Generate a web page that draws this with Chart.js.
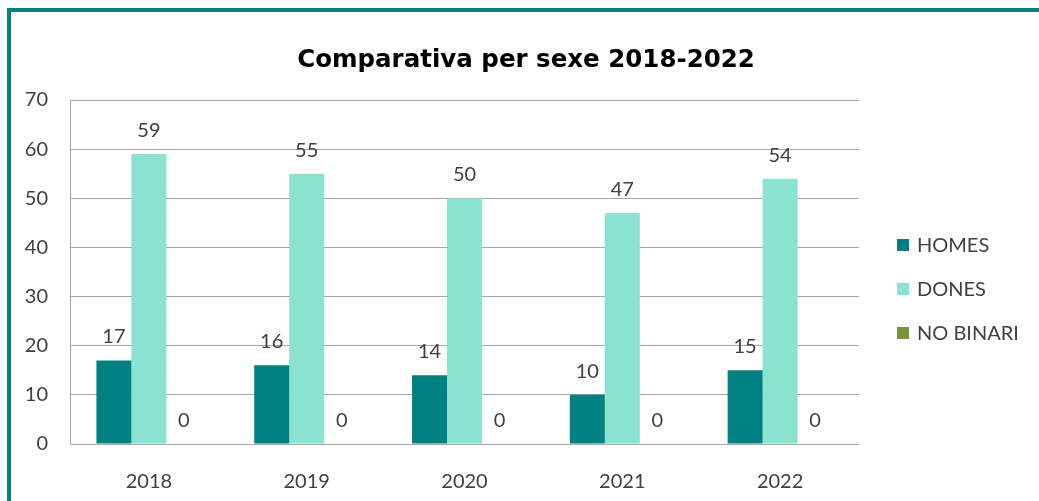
<!DOCTYPE html>
<html>
<head>
<meta charset="utf-8">
<title>Comparativa per sexe 2018-2022</title>
<script src="https://cdn.jsdelivr.net/npm/chart.js@4.4.1/dist/chart.umd.min.js"></script>
<style>
    html, body { margin: 0; padding: 0; background: #fff; overflow: hidden; }
    #wrap { position: relative; width: 1039px; height: 501px; }
    #frame {
        position: absolute; left: 7px; top: 8px; width: 1100px; height: 600px;
        border-top: 4px solid #0a807c; border-left: 4px solid #0a807c;
        pointer-events: none;
    }
</style>
</head>
<body>
<div id="wrap">
    <canvas id="sexChart" width="1039" height="501"></canvas>
    <div id="frame"></div>
</div>
<script>
const chartTitle = 'Comparativa per sexe 2018-2022';
const years = ['2018', '2019', '2020', '2021', '2022'];
const homes = [17, 16, 14, 10, 15];
const dones = [59, 55, 50, 47, 54];
const noBinari = [0, 0, 0, 0, 0];
const seriesNames = ['HOMES', 'DONES', 'NO BINARI'];
const seriesColors = ['#008080', '#8ae2d0', '#77933c'];
const yMax = 70;
const yStep = 10;

const textColor = '#404040';
const gridColor = '#a6a6a6';
const fontFamily = 'Lato, Carlito, "Open Sans", sans-serif';

// titol, llegenda i etiquetes de valor dibuixats a ma
const decorations = {
    id: 'decorations',
    afterDatasetsDraw(chart) {
        const { ctx, chartArea } = chart;
        ctx.save();

        // etiquetes de dades
        ctx.font = `20px ${fontFamily}`;
        ctx.fillStyle = textColor;
        ctx.textAlign = 'center';
        ctx.textBaseline = 'alphabetic';
        chart.data.datasets.forEach((ds, i) => {
            const meta = chart.getDatasetMeta(i);
            meta.data.forEach((bar, j) => {
                ctx.fillText(String(ds.data[j]), bar.x, bar.y - 17);
            });
        });

        // titol
        ctx.font = 'bold 24.5px "DejaVu Sans", sans-serif';
        ctx.fillStyle = '#000';
        ctx.fillText(chartTitle, 526, 67);

        // llegenda
        ctx.font = `20px ${fontFamily}`;
        ctx.textAlign = 'left';
        ctx.textBaseline = 'middle';
        chart.data.datasets.forEach((ds, i) => {
            const cy = chartArea.top + 145 + i * 44;
            ctx.fillStyle = ds.backgroundColor;
            ctx.fillRect(897, cy - 6, 12, 12);
            ctx.fillStyle = textColor;
            ctx.fillText(ds.label, 917, cy + 1);
        });

        ctx.restore();
    }
};

const ctx = document.getElementById('sexChart').getContext('2d');

new Chart(ctx, {
    type: 'bar',
    data: {
        labels: years,
        datasets: [
            { label: seriesNames[0], data: homes, backgroundColor: seriesColors[0] },
            { label: seriesNames[1], data: dones, backgroundColor: seriesColors[1] },
            { label: seriesNames[2], data: noBinari, backgroundColor: seriesColors[2] }
        ]
    },
    options: {
        responsive: false,
        animation: false,
        devicePixelRatio: 1,
        layout: { padding: { left: 13, top: 100, right: 180, bottom: 0 } },
        datasets: {
            bar: { categoryPercentage: 0.665, barPercentage: 1, borderWidth: 0 }
        },
        scales: {
            x: {
                grid: { display: false },
                border: { display: false },
                ticks: { color: textColor, font: { family: fontFamily, size: 20 }, padding: 18 },
                afterFit: (scale) => { scale.height = 57; }
            },
            y: {
                min: 0,
                max: yMax,
                ticks: { stepSize: yStep, color: textColor, font: { family: fontFamily, size: 20 }, padding: 22 },
                grid: { color: gridColor, drawTicks: false },
                border: { display: true, color: gridColor },
                afterFit: (scale) => { scale.width = 57; }
            }
        },
        plugins: {
            legend: { display: false },
            title: { display: false },
            tooltip: { enabled: false }
        }
    },
    plugins: [decorations]
});
</script>
</body>
</html>
